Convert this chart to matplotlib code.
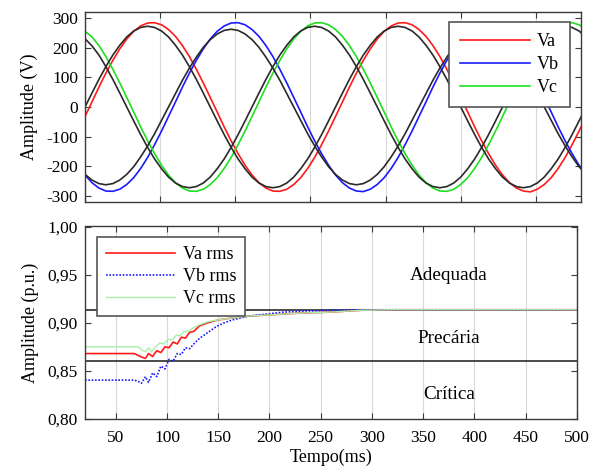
import numpy as np
import matplotlib
matplotlib.use("Agg")
import matplotlib.pyplot as plt

plt.rcParams['font.family'] = ['Liberation Serif', 'DejaVu Serif']
plt.rcParams['axes.unicode_minus'] = False

# ---- painel superior: tensoes de fase, amostras a cada 10 graus (60 Hz) ----
t_fase = np.arange(73) * (1000 / 60 / 36)  # ms

va = [-32, 17, 67, 114, 157, 196, 229, 255, 273, 283, 284, 277, 261, 238, 207, 170, 127, 81,
      32, -17, -67, -114, -157, -196, -229, -255, -273, -283, -284, -277, -261, -238, -207, -170, -127, -81,
      -32, 17, 67, 114, 157, 196, 229, 255, 273, 283, 284, 277, 261, 238, 207, 170, 127, 81,
      32, -17, -67, -114, -157, -196, -229, -255, -273, -283, -286, -277, -261, -238, -207, -170, -127, -81,
      -32]
vb = [-229, -255, -273, -283, -284, -277, -261, -238, -207, -170, -127, -81, -32, 17, 67, 114, 157, 196,
      229, 255, 273, 283, 284, 277, 261, 238, 207, 170, 127, 81, 32, -17, -67, -114, -157, -196,
      -229, -255, -273, -283, -285, -277, -261, -238, -207, -170, -127, -81, -32, 17, 67, 114, 157, 196,
      229, 255, 273, 283, 284, 277, 261, 238, 207, 170, 127, 81, 32, -17, -67, -114, -157, -196,
      -229]
vc = [255, 236, 207, 170, 127, 81, 32, -17, -67, -114, -157, -196, -229, -255, -273, -283, -284, -277,
      -261, -238, -207, -170, -127, -81, -32, 17, 67, 114, 157, 196, 229, 255, 273, 283, 284, 277,
      261, 238, 207, 170, 127, 81, 32, -17, -67, -114, -157, -196, -229, -255, -273, -283, -284, -277,
      -261, -238, -207, -170, -127, -81, -32, 17, 67, 114, 157, 196, 229, 255, 273, 283, 284, 277,
      261]

# tensoes de referencia (preto)
ref_a = [0, 47, 93, 136, 175, 208, 236, 256, 268, 272, 268, 256, 236, 208, 175, 136, 93, 47,
         0, -47, -93, -136, -175, -208, -236, -256, -268, -272, -268, -256, -236, -208, -175, -136, -93, -47,
         0, 47, 93, 136, 175, 208, 236, 256, 268, 272, 268, 256, 236, 208, 175, 136, 93, 47,
         0, -47, -93, -136, -175, -208, -236, -256, -268, -272, -268, -256, -236, -208, -175, -136, -93, -47,
         0]
ref_b = [-227, -246, -258, -262, -258, -246, -227, -201, -168, -131, -90, -45, 0, 45, 90, 131, 168, 201,
         227, 246, 258, 262, 258, 246, 227, 201, 168, 131, 90, 45, 0, -45, -90, -131, -168, -201,
         -227, -246, -258, -262, -258, -246, -227, -201, -168, -131, -90, -45, 0, 45, 90, 131, 168, 201,
         227, 246, 258, 262, 258, 246, 227, 201, 168, 131, 90, 45, 0, -45, -90, -131, -168, -201,
         -227]
ref_c = [230, 206, 175, 136, 93, 47, 0, -47, -93, -136, -175, -208, -236, -256, -268, -272, -268, -256,
         -236, -208, -175, -136, -93, -47, 0, 47, 93, 136, 175, 208, 236, 256, 268, 272, 268, 256,
         236, 208, 175, 136, 93, 47, 0, -47, -93, -136, -175, -208, -236, -256, -268, -272, -268, -256,
         -236, -208, -175, -136, -93, -47, 0, 47, 93, 136, 175, 208, 236, 256, 268, 272, 268, 256,
         236]

# ---- painel inferior: valores rms (p.u.) ----
ta_rms = [20, 68, 72, 76, 79, 82, 86, 90, 94, 98, 102, 106, 110, 114, 118, 122, 126, 132, 140, 150,
          164, 180, 197, 213, 229, 258, 290, 320, 500]
va_rms = [0.868, 0.868, 0.866, 0.864, 0.863, 0.868, 0.865, 0.871, 0.869, 0.875, 0.874, 0.880, 0.878,
          0.885, 0.884, 0.890, 0.891, 0.897, 0.900, 0.903, 0.905, 0.907, 0.908, 0.909, 0.910, 0.911,
          0.913, 0.9135, 0.9135]

tb_rms = [20, 68, 72, 75, 79, 82, 86, 90, 94, 98, 102, 106, 110, 114, 118, 122, 127, 132, 140, 148,
          156, 164, 172, 180, 197, 213, 230, 262, 290, 320, 500]
vb_rms = [0.8404, 0.8404, 0.839, 0.837, 0.844, 0.838, 0.848, 0.844, 0.855, 0.852, 0.862, 0.860, 0.868,
          0.867, 0.874, 0.873, 0.879, 0.884, 0.890, 0.896, 0.900, 0.903, 0.905, 0.907, 0.909, 0.911,
          0.912, 0.913, 0.9135, 0.9135, 0.9135]

tc_rms = [20, 72, 76, 79, 82, 85, 89, 93, 97, 101, 105, 109, 113, 117, 121, 126, 132, 140, 150, 164,
          180, 197, 229, 258, 290, 320, 500]
vc_rms = [0.875, 0.875, 0.871, 0.870, 0.874, 0.870, 0.875, 0.879, 0.878, 0.883, 0.882, 0.887, 0.887,
          0.891, 0.891, 0.895, 0.898, 0.901, 0.903, 0.905, 0.907, 0.908, 0.910, 0.911, 0.913, 0.9135,
          0.9135]

limites = [0.9137, 0.86]
faixas = ["Adequada", "Precária", "Crítica"]
faixas_y = [0.949, 0.884, 0.825]

yticks_pu = [0.80, 0.85, 0.90, 0.95, 1.00]
yticks_pu_labels = ["0,80", "0,85", "0,90", "0,95", "1,00"]

fig = plt.figure(figsize=(5.97, 4.73), dpi=100)
ax1 = fig.add_axes([85 / 597, 1 - 202 / 473, 496 / 597, 190 / 473])
ax2 = fig.add_axes([85 / 597, 1 - 419 / 473, 492 / 597, 192.5 / 473])

frame = '#3a3a3a'
for ax in (ax1, ax2):
    for s in ax.spines.values():
        s.set_color(frame)
        s.set_linewidth(1.0)
    ax.tick_params(direction='in', top=True, right=True, length=4, color=frame,
                   labelsize=12.5, pad=5)
    ax.grid(axis='x', color='#d8d8d8', linewidth=0.8)
    ax.set_axisbelow(True)

# superior
ax1.plot(t_fase, va, color='#ff1a1a', lw=1.2, label='Va')
ax1.plot(t_fase, vb, color='#1a1aff', lw=1.2, label='Vb')
ax1.plot(t_fase, vc, color='#1ee01e', lw=1.2, label='Vc')
for ref in (ref_a, ref_b, ref_c):
    ax1.plot(t_fase, ref, color='#2a2a2a', lw=1.2)
ax1.set_xlim(0, 33)
ax1.set_ylim(-320, 320)
ax1.set_xticks(np.arange(0, 35, 5))
ax1.set_xticklabels([])
ax1.set_yticks(np.arange(-300, 301, 100))
ax1.set_ylabel('Amplitude (V)', fontsize=13, labelpad=6)
leg1 = ax1.legend(loc='upper right', bbox_to_anchor=(0.978, 0.947), borderaxespad=0,
                  fontsize=13, handlelength=3.9, handletextpad=0.4, borderpad=0.6,
                  labelspacing=0.34, fancybox=False, framealpha=1, edgecolor='#555555')
leg1.get_frame().set_linewidth(1.2)

# inferior
for lim in limites:
    ax2.axhline(lim, color='#1a1a1a', lw=1.1)
ax2.plot(ta_rms, va_rms, color='#ff1a1a', lw=1.2, label='Va rms')
ax2.plot(tb_rms, vb_rms, color='#1a1aff', lw=1.2, ls=(0, (1, 1)), label='Vb rms')
ax2.plot(tc_rms, vc_rms, color='#a8f0a8', lw=1.0, label='Vc rms')
for nome, yy in zip(faixas, faixas_y):
    ax2.text(375, yy, nome, ha='center', va='center', fontsize=13.8)
ax2.set_xlim(20, 500)
ax2.set_ylim(0.80, 1.00)
ax2.set_xticks(np.arange(50, 501, 50))
ax2.set_yticks(yticks_pu)
ax2.set_yticklabels(yticks_pu_labels)
ax2.tick_params(axis='x', pad=8)
ax2.set_ylabel('Amplitude (p.u.)', fontsize=13, labelpad=6)
ax2.set_xlabel('Tempo(ms)', fontsize=13, labelpad=2)
leg2 = ax2.legend(loc='upper left', bbox_to_anchor=(0.0244, 0.945), borderaxespad=0,
                  fontsize=13, handlelength=3.8, handletextpad=0.45, borderpad=0.5,
                  labelspacing=0.28, fancybox=False, framealpha=1, edgecolor='#555555')
leg2.get_frame().set_linewidth(1.2)

fig.savefig('out.png', dpi=100)
